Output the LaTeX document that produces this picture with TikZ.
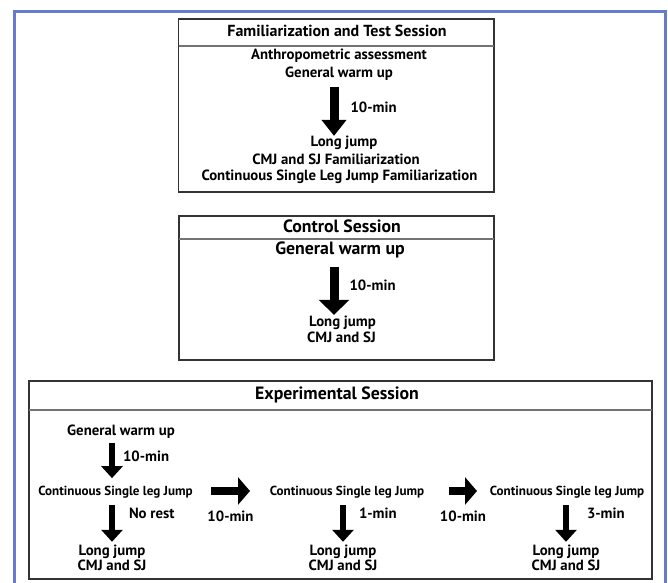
\documentclass[tikz,border=0pt]{standalone}
\usepackage{fontspec}
\setmainfont{PT Sans}
\usetikzlibrary{arrows.meta}

\definecolor{framecol}{RGB}{104,122,204}
\newcommand\fsz[1]{\fontsize{#1}{#1}\selectfont}

\tikzset{
  boxline/.style={draw=black!80, line width=1.1pt},
  sepline/.style={draw=black!55, line width=1.2pt},
  lbl/.style={font=\bfseries\fsz{14.8}, inner sep=0pt, text height=10.5pt, text depth=3.3pt},
  hdrF/.style={lbl, font=\bfseries\fsz{16}},
  hdr/.style={font=\bfseries\fsz{17.8}, inner sep=0pt, text height=12.5pt, text depth=4pt},
  small/.style={font=\bfseries\fsz{13.1}, inner sep=0pt, text height=9.3pt, text depth=3pt},
  big/.style={hdr},
  vbig/.style={line width=9pt, -{Triangle[width=24pt,length=16pt]}},
  vbigC/.style={line width=9pt, -{Triangle[width=30pt,length=15pt]}},
  vsmall/.style={line width=6pt, -{Triangle[width=21pt,length=12pt]}},
  hbig/.style={line width=8.5pt, -{Triangle[width=27pt,length=12pt]}}
}

\begin{document}
\begin{tikzpicture}[x=1pt,y=-1pt]
  \useasboundingbox (0,0) rectangle (668,582);
  \draw[framecol, line width=3pt] (14.3,11.5) rectangle (665,600);

  % familiarization and test session
  \draw[boxline] (178.5,19) rectangle (494,192);
  \draw[sepline] (178.5,46) -- (494,46);
  \node[hdrF] (famT) at (337,33) {Familiarization and Test Session};
  \node[lbl] (anthF) at (339,56) {Anthropometric assessment};
  \node[lbl] (gwF) at (339,74) {General warm up};
  \node[lbl] (ljF) at (344,143) {Long jump};
  \node[lbl] (cmjF) at (336,161) {CMJ and SJ Familiarization};
  \node[lbl] (cslF) at (339.5,177) {Continuous Single Leg Jump Familiarization};
  \draw[vbig, shorten <=6.1pt] ([xshift=-5pt]gwF.south) -- ([xshift=-5pt]gwF.south |- ljF.north)
    node[lbl, pos=0.51, right=12pt] (tF) {10-min};

  % control session
  \draw[boxline] (179,216) rectangle (494,360);
  \draw[sepline] (179,239) -- (494,239);
  \node[hdr] (ctrlT) at (342,228) {Control Session};
  \node[big] (gwC) at (340,250) {General warm up};
  \node[lbl] (ljC) at (342.5,323) {Long jump};
  \node[lbl] (cmjC) at (341.5,339) {CMJ and SJ};
  \draw[vbigC, shorten <=8.7pt, shorten >=1.1pt] ([xshift=-6pt]gwC.south) -- ([xshift=-6pt]gwC.south |- ljC.north)
    node[lbl, pos=0.5, right=11pt] (tC) {10-min};

  % experimental session
  \draw[boxline] (29,381) rectangle (652,579);
  \draw[sepline] (29,410) -- (652,410);
  \node[hdr] (expT) at (337,395) {Experimental Session};
  \node[lbl] (gwE) at (121,432) {General warm up};
  \node[small] (cslA) at (115.5,492) {Continuous Single leg Jump};
  \node[small] (cslB) at (347,492) {Continuous Single leg Jump};
  \node[small] (cslC) at (567,492) {Continuous Single leg Jump};
  \node[lbl] (ljA) at (112,552) {Long jump};
  \node[lbl] (cmjA) at (112,567) {CMJ and SJ};
  \node[lbl] (ljB) at (343,552) {Long jump};
  \node[lbl] (cmjB) at (343,567) {CMJ and SJ};
  \node[lbl] (ljC3) at (566,552) {Long jump};
  \node[lbl] (cmjC3) at (566,567) {CMJ and SJ};

  \draw[vsmall, shorten <=4.1pt, shorten >=7.5pt] (gwE.south -| ljA.north) -- (cslA.north -| ljA.north)
    node[lbl, pos=0.41, right=8pt] (tA) {10-min};
  \draw[vsmall, shorten <=6.8pt, shorten >=3.1pt] (cslA.south -| ljA.north) -- (ljA.north)
    node[lbl, pos=0.36, right=14pt] (nrA) {No rest};
  \draw[vsmall, shorten <=6.8pt, shorten >=3.1pt] (cslB.south -| ljB.north) -- (ljB.north)
    node[lbl, pos=0.36, right=13pt] (oneB) {1-min};
  \draw[vsmall, shorten <=6.8pt, shorten >=3.1pt] (cslC.south -| ljC3.north) -- (ljC3.north)
    node[lbl, pos=0.36, right=18pt] (threeC) {3-min};

  \draw[hbig] ([xshift=95.5pt,yshift=1pt]cslA.center) -- ([xshift=-97pt,yshift=1pt]cslB.center)
    node[lbl, midway, below=16pt] (tAB) {10-min};
  \draw[hbig] ([xshift=102pt,yshift=1pt]cslB.center) -- ([xshift=-90pt,yshift=1pt]cslC.center)
    node[lbl, midway, below=16pt] (tBC) {10-min};
\end{tikzpicture}
\end{document}
